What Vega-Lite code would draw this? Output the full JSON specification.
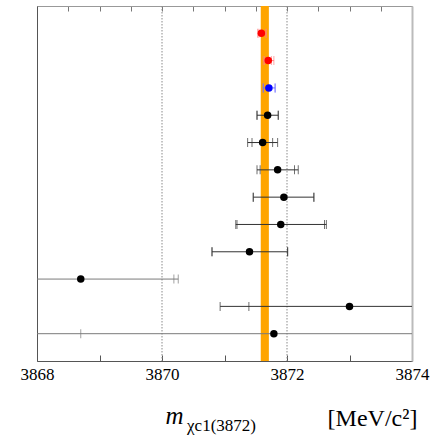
{
  "$schema": "https://vega.github.io/schema/vega-lite/v6.json",
  "width": 375,
  "height": 355,
  "autosize": {"type": "none"},
  "padding": {"left": 37, "top": 6, "right": 18, "bottom": 74},
  "background": "white",
  "config": {"view": {"stroke": null}, "font": "Liberation Serif"},
  "datasets": {
    "grid": [{"g": 3870}, {"g": 3872}],
    "band": [{"lo": 3871.58, "hi": 3871.71}],
    "rows": [
      {"row": 1, "val": 3871.59, "stat_lo": 3871.55, "stat_hi": 3871.66, "tot_lo": 3871.53, "tot_hi": 3871.67, "grp": "red"},
      {"row": 2, "val": 3871.70, "stat_lo": 3871.64, "stat_hi": 3871.75, "tot_lo": 3871.62, "tot_hi": 3871.79, "grp": "red"},
      {"row": 3, "val": 3871.71, "stat_lo": 3871.62, "stat_hi": 3871.81, "tot_lo": 3871.62, "tot_hi": 3871.81, "grp": "blue"},
      {"row": 4, "val": 3871.69, "stat_lo": 3871.52, "stat_hi": 3871.86, "tot_lo": 3871.52, "tot_hi": 3871.86, "grp": "black"},
      {"row": 5, "val": 3871.61, "stat_lo": 3871.44, "stat_hi": 3871.77, "tot_lo": 3871.37, "tot_hi": 3871.85, "grp": "black"},
      {"row": 6, "val": 3871.85, "stat_lo": 3871.57, "stat_hi": 3872.12, "tot_lo": 3871.52, "tot_hi": 3872.18, "grp": "black"},
      {"row": 7, "val": 3871.95, "stat_lo": 3871.46, "stat_hi": 3872.43, "tot_lo": 3871.46, "tot_hi": 3872.43, "grp": "black"},
      {"row": 8, "val": 3871.90, "stat_lo": 3871.20, "stat_hi": 3872.60, "tot_lo": 3871.18, "tot_hi": 3872.63, "grp": "black"},
      {"row": 9, "val": 3871.40, "stat_lo": 3870.80, "stat_hi": 3872.01, "tot_lo": 3870.80, "tot_hi": 3872.01, "grp": "black"},
      {"row": 10, "val": 3868.70, "stat_lo": 3867.20, "stat_hi": 3870.19, "tot_lo": 3867.10, "tot_hi": 3870.26, "grp": "gray"},
      {"row": 11, "val": 3873.00, "stat_lo": 3871.39, "stat_hi": 3874.60, "tot_lo": 3870.93, "tot_hi": 3875.10, "grp": "black"},
      {"row": 12, "val": 3871.79, "stat_lo": 3868.70, "stat_hi": 3874.90, "tot_lo": 3867.00, "tot_hi": 3876.50, "grp": "gray"}
    ]
  },
  "layer": [
    {
      "data": {"name": "grid"},
      "mark": {"type": "rule", "color": "#8a8a8a", "strokeWidth": 1, "strokeDash": [1.5, 1.5]},
      "encoding": {
        "x": {
          "field": "g", "type": "quantitative",
          "scale": {"domain": [3868, 3874], "nice": false, "zero": false},
          "axis": {
            "orient": "bottom",
            "values": [3868, 3868.5, 3869, 3869.5, 3870, 3870.5, 3871, 3871.5, 3872, 3872.5, 3873, 3873.5, 3874],
            "format": "d",
            "labelExpr": "datum.value % 2 == 0 ? datum.label : ''",
            "labelOverlap": false,
            "labelFlush": false,
            "tickSize": -6,
            "tickColor": "#555",
            "domainColor": "#555",
            "labelFont": "Liberation Serif",
            "labelFontSize": 17,
            "labelColor": "#000",
            "labelPadding": 11,
            "grid": false,
            "title": "[MeV/c²]",
            "titleFont": "Liberation Serif",
            "titleFontSize": 24,
            "titleFontWeight": "normal",
            "titleColor": "#000",
            "titleX": 335,
            "titleY": 64,
            "titleAlign": "center",
            "titleBaseline": "alphabetic"
          }
        }
      }
    },
    {
      "data": {"name": "band"},
      "mark": {"type": "rect", "color": "#ffa500"},
      "encoding": {
        "x": {
          "field": "lo", "type": "quantitative",
          "axis": {
            "orient": "top",
            "values": [3868, 3868.5, 3869, 3869.5, 3870, 3870.5, 3871, 3871.5, 3872, 3872.5, 3873, 3873.5, 3874],
            "labels": false,
            "tickSize": -5,
            "tickColor": "#777",
            "domainColor": "#999",
            "grid": false,
            "title": "χc1(3872)",
            "titleFont": "Liberation Serif",
            "titleFontSize": 17,
            "titleFontWeight": "normal",
            "titleColor": "#000",
            "titleX": 184,
            "titleY": 424,
            "titleAlign": "center",
            "titleBaseline": "alphabetic"
          }
        },
        "x2": {"field": "hi"}
      }
    },
    {
      "data": {"name": "rows"},
      "mark": {"type": "rule", "strokeWidth": 1, "clip": true},
      "encoding": {
        "x": {"field": "tot_lo", "type": "quantitative", "axis": null},
        "x2": {"field": "tot_hi"},
        "y": {
          "field": "row", "type": "quantitative",
          "scale": {"domain": [13, 0], "nice": false, "zero": false},
          "axis": {
            "orient": "left",
            "labels": false,
            "ticks": false,
            "grid": false,
            "domainColor": "#555",
            "title": "m",
            "titleAngle": 0,
            "titleFont": "Liberation Serif",
            "titleFontStyle": "italic",
            "titleFontSize": 25,
            "titleFontWeight": "normal",
            "titleColor": "#000",
            "titleX": 137,
            "titleY": 417,
            "titleAlign": "center",
            "titleBaseline": "alphabetic"
          }
        },
        "color": {
          "field": "grp", "type": "nominal",
          "scale": {"domain": ["red", "blue", "black", "gray"], "range": ["#ff8080", "#7070ff", "#333333", "#7a7a7a"]},
          "legend": null
        }
      }
    },
    {
      "data": {"name": "rows"},
      "transform": [{"fold": ["stat_lo", "stat_hi", "tot_lo", "tot_hi"], "as": ["k", "xv"]}],
      "mark": {"type": "tick", "orient": "vertical", "size": 9, "thickness": 1, "clip": true},
      "encoding": {
        "x": {"field": "xv", "type": "quantitative", "axis": null},
        "y": {"field": "row", "type": "quantitative", "axis": null},
        "color": {
          "field": "grp", "type": "nominal",
          "scale": {"domain": ["red", "blue", "black", "gray"], "range": ["#ff8080", "#7070ff", "#333333", "#7a7a7a"]},
          "legend": null
        }
      }
    },
    {
      "data": {"name": "rows"},
      "mark": {"type": "circle", "size": 56, "opacity": 1},
      "encoding": {
        "x": {"field": "val", "type": "quantitative", "axis": null},
        "y": {
          "field": "row", "type": "quantitative",
          "axis": {"orient": "right", "labels": false, "ticks": false, "grid": false, "domainColor": "#bbbbbb", "domainWidth": 2, "title": null}
        },
        "color": {
          "field": "grp", "type": "nominal",
          "scale": {"domain": ["red", "blue", "black", "gray"], "range": ["#ff0000", "#0000ff", "#000000", "#000000"]},
          "legend": null
        }
      }
    }
  ],
  "resolve": {"axis": {"x": "independent", "y": "independent"}, "scale": {"color": "independent"}}
}
